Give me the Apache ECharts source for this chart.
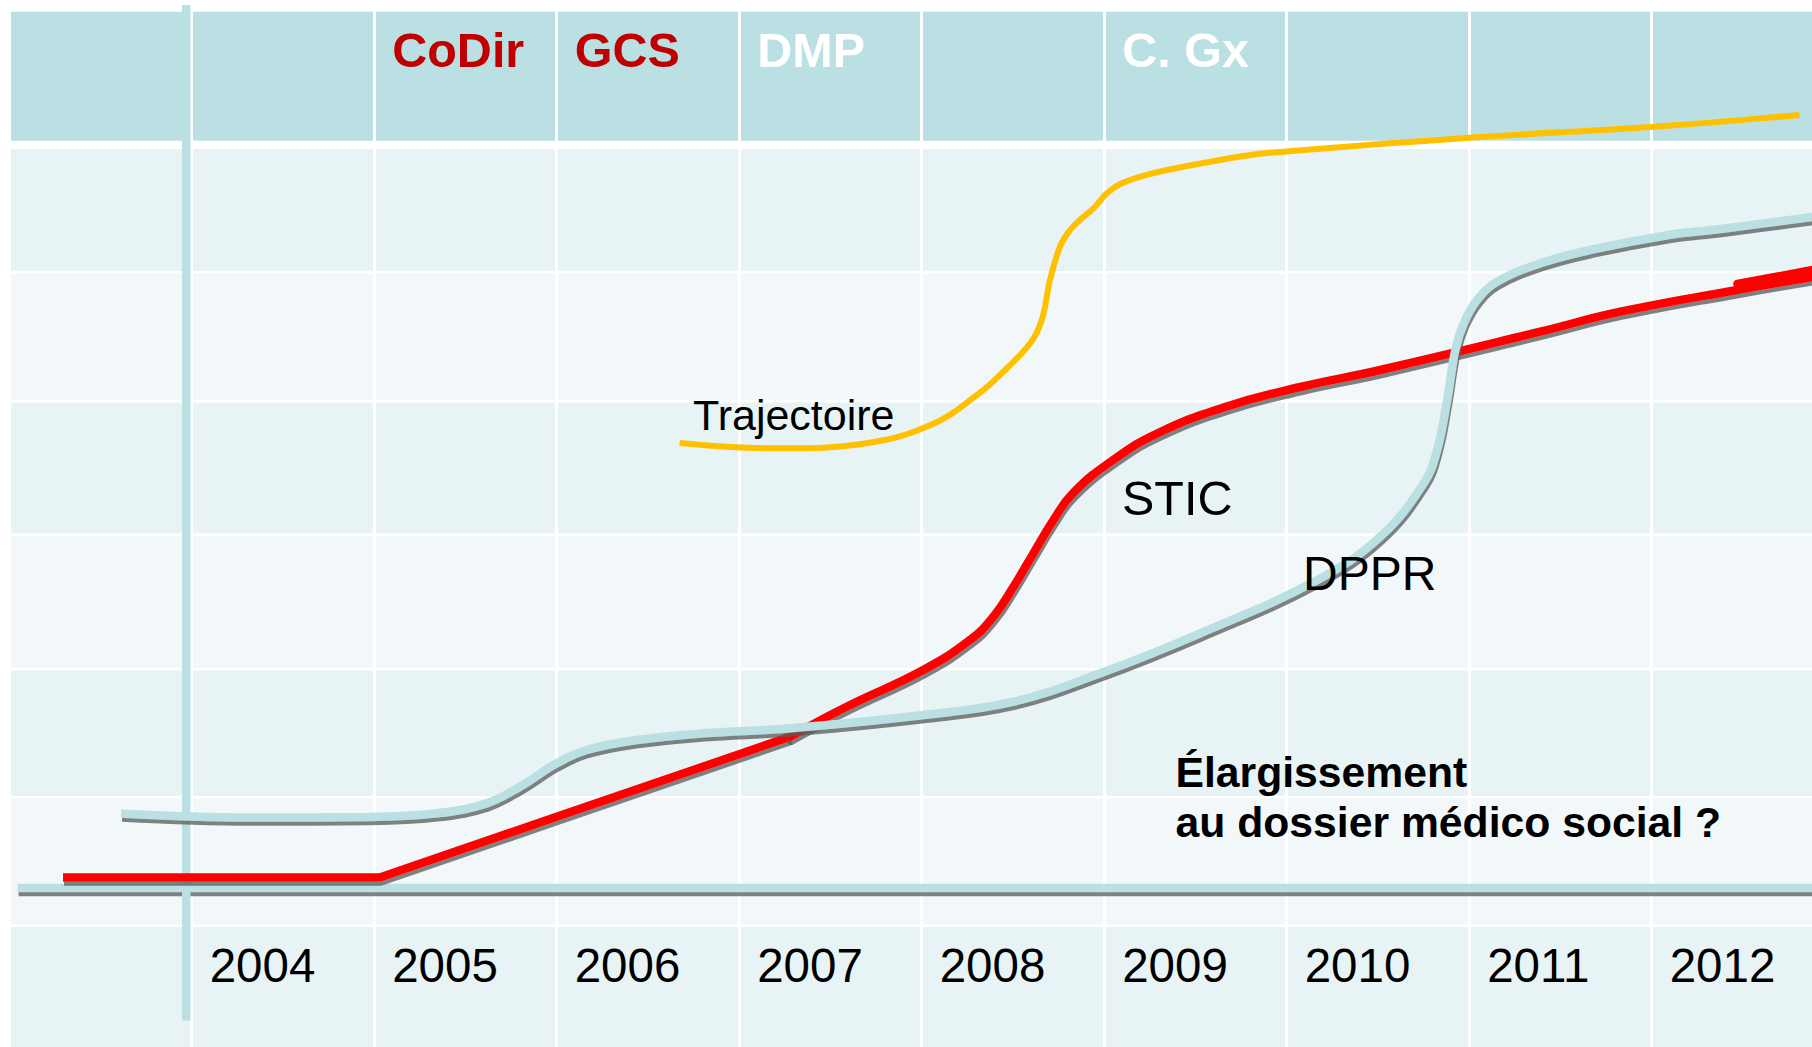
<!DOCTYPE html>
<html>
<head>
<meta charset="utf-8">
<style>
html,body{margin:0;padding:0;background:#ffffff;}
#chart{width:1812px;height:1047px;}
</style>
<script src="https://cdn.jsdelivr.net/npm/echarts@6/dist/echarts.min.js"></script>
</head>
<body>
<div id="chart"></div>
<script>
// ---------------- DATA ----------------
const yearTicks = [2004, 2005, 2006, 2007, 2008, 2009, 2010, 2011, 2012];
const yearLabels = ['2004', '2005', '2006', '2007', '2008', '2009', '2010', '2011', '2012'];

const headerYears = [2005, 2006, 2007, 2009];
const headerLabels = ['CoDir', 'GCS', 'DMP', 'C. Gx'];

// STIC (red): straight part (flat, then linear growth) ...
const sticLineaire = [
  [2003.295, 1.42], [2005.031, 1.42], [2006.000, 9.64], [2006.801, 16.40], [2007.279, 20.46]
];
// ... then the S-shaped part
const sticCourbe = [
  [2007.279, 20.46], [2007.589, 24.52], [2008.009, 29.48], [2008.265, 33.54],
  [2008.393, 36.69], [2008.503, 40.74], [2008.612, 45.26], [2008.722, 49.76],
  [2008.830, 53.42], [2009.049, 57.88], [2009.296, 61.53], [2009.663, 65.05],
  [2010.075, 67.75], [2010.513, 70.05], [2011.390, 75.23], [2011.829, 77.93],
  [2012.469, 80.87], [2012.882, 82.62]
];
// overlapping end piece of the STIC line
const sticEnd = [[2012.470, 81.68], [2012.882, 83.57]];

// DPPR (light teal)
const dppr = [
  [2003.613, 10.08], [2004.318, 9.53], [2004.976, 9.60], [2005.342, 10.10],
  [2005.616, 11.45], [2005.798, 13.70], [2006.000, 16.86], [2006.164, 18.66],
  [2006.438, 20.01], [2006.801, 20.92], [2007.279, 21.60], [2008.009, 23.39],
  [2008.503, 25.19], [2008.978, 29.03], [2009.526, 34.44], [2010.168, 41.65],
  [2010.513, 47.51], [2010.751, 54.73], [2010.824, 59.23], [2010.879, 65.99],
  [2010.924, 72.75], [2010.970, 76.36], [2011.043, 79.51], [2011.153, 81.99],
  [2011.390, 84.48], [2011.664, 86.28], [2012.092, 88.30], [2012.377, 89.12],
  [2012.882, 90.74]
];

// Trajectoire (yellow)
const trajectoire = [
  [2006.673, 60.18], [2006.950, 59.64], [2007.216, 59.46], [2007.706, 60.18],
  [2008.073, 62.88], [2008.317, 66.94], [2008.412, 68.97], [2008.594, 73.66],
  [2008.658, 76.81], [2008.703, 82.22], [2008.758, 86.72], [2008.813, 88.98],
  [2008.867, 90.33], [2008.941, 91.91], [2009.015, 93.94], [2009.088, 95.20],
  [2009.197, 96.19], [2009.344, 97.09], [2009.636, 98.45], [2009.894, 99.39],
  [2011.062, 101.56], [2011.993, 102.91], [2012.810, 104.53]
];

// time axes drawn on the slide
const axeHorizontal = [[2003.046, 0], [2013, 0]];
const axeVertical = [[2003.970, 119.4], [2003.970, -17.9]];

// ---------------- STYLE / LAYOUT ----------------
const FONT = '"Liberation Sans", Arial, sans-serif';
const TEAL = '#BBE0E3';
const RED = '#FF0000';
const YELLOW = '#FFC000';
const DARK = '#E8F3F5';
const LIGHT = '#F2F8FA';
const SHADOW = 'rgba(90,90,90,0.75)';
const headerStyleKey = { 'CoDir': 'rouge', 'GCS': 'rouge', 'DMP': 'blanc', 'C. Gx': 'blanc' };
const shadow = { shadowColor: SHADOW, shadowBlur: 0, shadowOffsetX: 1, shadowOffsetY: 4 };

// table bands (pixel layout of the slide background)
const bands = [
  [11.7, 140.7, TEAL],
  [149, 271, DARK],
  [273.5, 400, LIGHT],
  [402.5, 533.5, DARK],
  [536, 668, LIGHT],
  [670.5, 796, DARK],
  [798.5, 924.5, LIGHT],
  [927, 1047, DARK]
];

const graphics = bands.map(b => ({
  type: 'rect', z: -10, silent: true,
  shape: { x: 11, y: b[0], width: 1801, height: b[1] - b[0] },
  style: { fill: b[2] }
}));

const notes = [
  { text: 'Trajectoire', x: 693, y: 415, font: '43px ' + FONT, lh: 50 },
  { text: 'STIC', x: 1122, y: 497.5, font: '48.5px ' + FONT, lh: 56 },
  { text: 'DPPR', x: 1303, y: 573, font: '48px ' + FONT, lh: 56 },
  { text: 'Élargissement\nau dossier médico social ?', x: 1175.5, y: 797, font: 'bold 42.7px ' + FONT, lh: 50 }
];
notes.forEach(n => graphics.push({
  type: 'text', z: 100, silent: true, x: n.x, y: n.y,
  style: { text: n.text, font: n.font, fill: '#000000', align: 'left', verticalAlign: 'middle', lineHeight: n.lh }
}));

function lineSeries(name, data, style, z, extra) {
  return Object.assign({
    type: 'line', name: name, data: data, xAxisIndex: 0, yAxisIndex: 0,
    symbol: 'none', showSymbol: false, clip: false, silent: true, z: z,
    emphasis: { disabled: true }, animation: false,
    lineStyle: style
  }, extra || {});
}

// horizontal time axis: a custom series so its drop shadow can be drawn as an offset stroke
const baselineSeries = {
  type: 'custom', name: 'Axe temps', xAxisIndex: 0, yAxisIndex: 0, silent: true, clip: false, z: 2,
  animation: false,
  data: [[axeHorizontal[0][0], axeHorizontal[1][0], axeHorizontal[0][1], axeHorizontal[1][1]]],
  encode: { x: [0, 1], y: [2, 3] },
  renderItem: function (params, api) {
    const p0 = api.coord([api.value(0), api.value(2)]);
    const p1 = api.coord([api.value(1), api.value(3)]);
    return {
      type: 'group',
      children: [
        { type: 'line', shape: { x1: p0[0] + 1, y1: p0[1] + 4, x2: p1[0] + 1, y2: p1[1] + 4 },
          style: { stroke: SHADOW, lineWidth: 8.4, fill: null } },
        { type: 'line', shape: { x1: p0[0], y1: p0[1], x2: p1[0], y2: p1[1] },
          style: { stroke: TEAL, lineWidth: 8.4, fill: null } }
      ]
    };
  }
};

const chart = echarts.init(document.getElementById('chart'), null, { renderer: 'svg', width: 1812, height: 1047 });

chart.setOption({
  animation: false,
  backgroundColor: '#ffffff',
  grid: { left: 9.2, right: -22.2, top: 11.7, bottom: 0, containLabel: false, outerBoundsMode: 'none', show: false },
  xAxis: [
    {
      type: 'value', gridIndex: 0, position: 'bottom', min: 2003, max: 2013, interval: 1,
      axisLine: { show: false }, axisTick: { show: false },
      splitLine: { show: true, lineStyle: { color: '#ffffff', width: 3 } },
      axisLabel: {
        show: true, color: '#000000', fontSize: 47.5, fontFamily: FONT,
        align: 'left', verticalAlign: 'middle', margin: -81.5, padding: [0, 0, 0, 18],
        formatter: v => { const i = yearTicks.indexOf(Math.round(v)); return i >= 0 ? yearLabels[i] : ''; }
      }
    },
    {
      type: 'value', gridIndex: 0, position: 'top', min: 2003, max: 2013, interval: 1,
      axisLine: { show: false }, axisTick: { show: false }, splitLine: { show: false },
      axisLabel: {
        show: true, fontSize: 48.5, fontFamily: FONT, fontWeight: 'bold',
        align: 'left', verticalAlign: 'middle', margin: -37.8, padding: [0, 0, 0, 18],
        formatter: v => {
          const i = headerYears.indexOf(Math.round(v));
          return i >= 0 ? '{' + headerStyleKey[headerLabels[i]] + '|' + headerLabels[i] + '}' : '';
        },
        rich: {
          rouge: { color: '#C00000', fontSize: 48.5, fontWeight: 'bold', fontFamily: FONT },
          blanc: { color: '#FFFFFF', fontSize: 48.5, fontWeight: 'bold', fontFamily: FONT }
        }
      }
    }
  ],
  yAxis: [
    { type: 'value', gridIndex: 0, min: -21.5, max: 118.5, show: false, splitLine: { show: false } }
  ],
  graphic: graphics,
  series: [
    baselineSeries,
    lineSeries('Axe vertical', axeVertical, { color: TEAL, width: 8.5 }, 3),
    lineSeries('STIC', sticLineaire, Object.assign({ color: RED, width: 8.5 }, shadow), 4),
    lineSeries('STIC', sticCourbe, Object.assign({ color: RED, width: 8.5, cap: 'round' }, shadow), 4, { smooth: 0.45 }),
    lineSeries('STIC fin', sticEnd, { color: RED, width: 8.5, cap: 'round' }, 4),
    lineSeries('DPPR', dppr, Object.assign({ color: TEAL, width: 8.5 }, shadow), 5, { smooth: 0.4 }),
    lineSeries('Trajectoire', trajectoire, { color: YELLOW, width: 6 }, 6, { smooth: 0.4 })
  ]
});
</script>
</body>
</html>
